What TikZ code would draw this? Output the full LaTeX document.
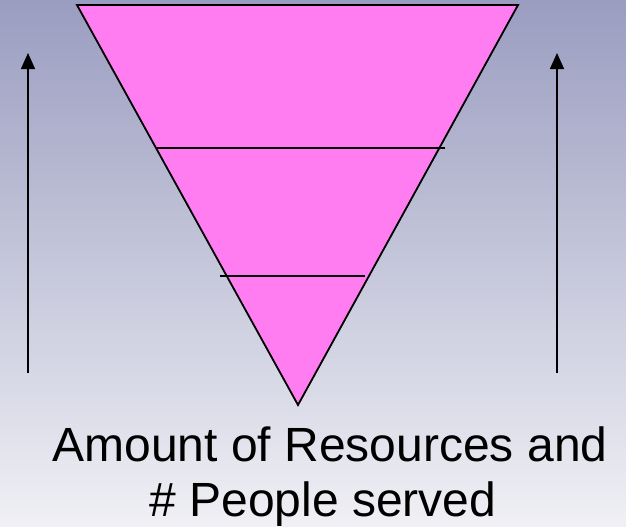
\documentclass[tikz,border=0pt]{standalone}
\usepackage{fontspec}
\setmainfont{Liberation Sans}
\usetikzlibrary{arrows.meta}
\definecolor{bgtop}{RGB}{154,157,192}
\definecolor{bgbot}{RGB}{240,240,245}
\definecolor{funnel}{RGB}{255,125,240}
\tikzset{
  edge/.style={line width=1.8pt, line join=miter},
  divider/.style={line width=1.6pt},
  uparrow/.style={line width=1.6pt, -{Triangle[width=14pt,length=16pt]}},
  caption/.style={anchor=base, font=\fontsize{48}{55}\selectfont, inner sep=0pt}
}
\begin{document}
\begin{tikzpicture}[x=1pt,y=-1pt]
  \useasboundingbox (0,0) rectangle (626,527);
  \shade[top color=bgtop, bottom color=bgbot] (0,0) rectangle (626,527);
  % funnel
  \coordinate (tl) at (77,5);
  \coordinate (tr) at (518,5);
  \coordinate (apex) at (298,405);
  \fill[funnel] (tl) -- (tr) -- (apex) -- cycle;
  \coordinate (d1a) at (157,148);
  \coordinate (d1b) at (445,148);
  \coordinate (d2a) at (220,276);
  \coordinate (d2b) at (365,276);
  \draw[divider] (d1a) -- (d1b);
  \draw[divider] (d2a) -- (d2b);
  \draw[edge] (tl) -- (tr) -- (apex) -- cycle;
  % arrows
  \coordinate (la) at (28,373);
  \coordinate (lb) at (28,53);
  \coordinate (ra) at (557,373);
  \coordinate (rb) at (557,53);
  \draw[uparrow] (la) -- (lb);
  \draw[uparrow] (ra) -- (rb);
  % caption
  \node[caption] (cap1) at (330,461) {Amount of Resources and};
  \node[caption] (cap2) at (323,516) {\# People served};
\end{tikzpicture}
\end{document}
